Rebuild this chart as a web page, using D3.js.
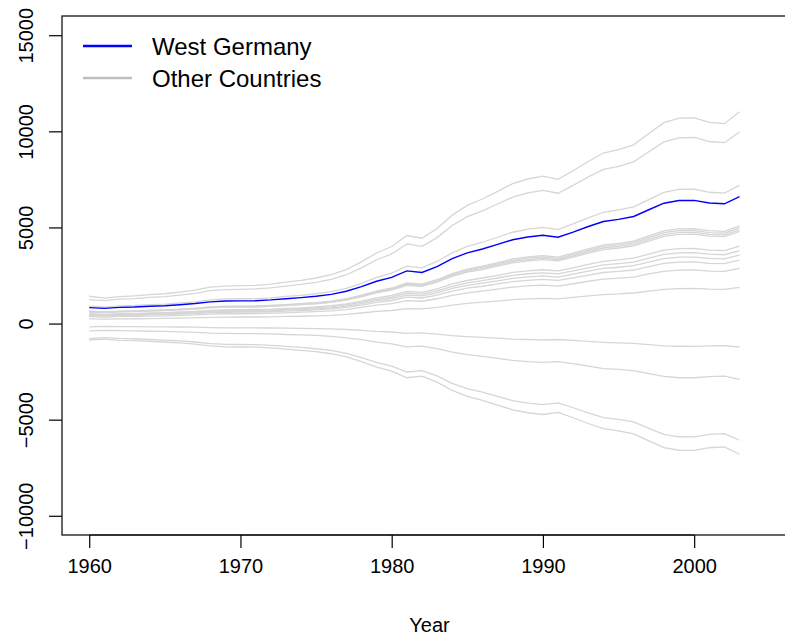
<!DOCTYPE html>
<html>
<head>
<meta charset="utf-8">
<script src="https://cdn.jsdelivr.net/npm/d3@7"></script>
<style>
    body { margin: 0; background: #fff; }
    text { font-family: "Liberation Sans", Arial, sans-serif; }
</style>
</head>
<body>
<svg id="chart" width="785" height="638"></svg>
<script>
var years = d3.range(1960, 2004);

var westGermany = [830,790,840,860,900,930,980,1040,1130,1170,1180,1190,1230,1290,1350,1420,1520,1680,1920,2200,2400,2740,2660,2960,3380,3680,3880,4120,4360,4500,4590,4490,4760,5050,5310,5420,5570,5920,6260,6400,6410,6270,6230,6600];

var other01 = [1420,1320,1400,1440,1500,1550,1640,1740,1890,1950,1970,1990,2050,2150,2250,2370,2540,2810,3210,3670,4010,4580,4440,4940,5640,6150,6480,6880,7280,7520,7670,7500,7950,8430,8870,9050,9300,9890,10450,10690,10700,10470,10400,11020];
var other02 = [1250,1190,1270,1300,1360,1400,1480,1570,1710,1770,1780,1800,1860,1950,2040,2140,2300,2540,2900,3320,3620,4140,4020,4470,5100,5560,5860,6220,6580,6800,6930,6780,7190,7630,8020,8180,8410,8940,9450,9660,9680,9470,9410,9970];
var other03 = [900,860,920,940,980,1010,1070,1130,1230,1280,1290,1300,1340,1410,1470,1550,1660,1830,2090,2400,2620,2990,2900,3230,3680,4010,4230,4490,4750,4910,5000,4890,5190,5500,5790,5910,6070,6450,6820,6980,6990,6830,6790,7190];
var other04 = [640,610,650,660,690,720,750,800,870,900,910,920,950,990,1040,1090,1170,1290,1480,1690,1850,2110,2050,2280,2600,2830,2990,3170,3360,3470,3530,3460,3670,3890,4090,4170,4290,4560,4820,4930,4940,4830,4800,5080];
var other05 = [630,600,630,650,680,700,740,790,850,880,890,900,930,970,1020,1070,1150,1270,1450,1660,1810,2070,2010,2230,2550,2780,2930,3110,3290,3400,3470,3390,3590,3810,4010,4090,4210,4470,4730,4830,4840,4730,4700,4980];
var other06 = [610,580,620,640,670,690,730,770,840,870,870,880,910,950,1000,1050,1120,1240,1420,1630,1780,2030,1970,2190,2500,2720,2870,3050,3230,3330,3400,3320,3520,3740,3930,4010,4120,4380,4630,4740,4740,4640,4610,4880];
var other07 = [600,570,610,620,650,670,710,750,820,850,860,860,890,940,980,1030,1100,1220,1390,1600,1740,1990,1930,2150,2450,2670,2810,2990,3160,3260,3330,3260,3450,3660,3850,3930,4040,4290,4540,4640,4650,4550,4520,4790];
var other08 = [510,480,510,520,550,570,600,630,690,710,720,730,750,790,820,870,930,1020,1170,1340,1460,1670,1620,1810,2060,2240,2370,2510,2660,2740,2800,2740,2900,3080,3240,3310,3400,3610,3820,3900,3910,3820,3800,4030];
var other09 = [480,450,480,490,520,530,560,600,650,670,680,680,710,740,780,820,870,970,1100,1260,1380,1580,1530,1700,1940,2120,2230,2370,2510,2590,2640,2580,2740,2900,3050,3120,3200,3400,3600,3680,3690,3610,3580,3800];
var other10 = [450,430,450,460,490,500,530,560,610,630,640,640,660,700,730,770,820,910,1040,1190,1300,1480,1440,1600,1830,1990,2100,2220,2350,2430,2480,2420,2570,2730,2870,2930,3010,3200,3380,3460,3460,3390,3360,3560];
var other11 = [415,395,420,430,450,465,490,520,565,585,590,595,615,645,675,710,760,840,960,1100,1200,1370,1330,1480,1690,1840,1940,2060,2180,2250,2295,2245,2380,2525,2655,2710,2785,2960,3130,3200,3205,3135,3115,3300];
var other12 = [360,340,370,370,390,400,430,450,490,510,510,520,540,560,590,620,660,730,840,960,1040,1190,1160,1290,1470,1600,1690,1790,1900,1960,2000,1950,2070,2200,2310,2360,2420,2580,2720,2780,2790,2730,2710,2870];
var other13 = [240,230,240,250,260,270,280,300,320,330,340,340,350,370,380,400,430,480,550,630,680,780,760,840,960,1050,1110,1170,1240,1280,1310,1280,1360,1440,1510,1540,1590,1690,1780,1820,1830,1790,1780,1880];
var other14 = [-170,-150,-160,-160,-170,-170,-180,-190,-210,-220,-220,-220,-230,-240,-250,-260,-280,-310,-360,-410,-440,-510,-490,-550,-630,-680,-720,-760,-810,-830,-850,-830,-880,-930,-980,-1000,-1030,-1100,-1160,-1180,-1190,-1160,-1150,-1220];
var other15 = [-380,-350,-370,-380,-400,-410,-430,-460,-500,-510,-520,-520,-540,-570,-590,-620,-670,-740,-840,-970,-1060,-1210,-1170,-1300,-1490,-1620,-1710,-1810,-1920,-1980,-2020,-1980,-2090,-2220,-2340,-2380,-2450,-2600,-2750,-2820,-2820,-2760,-2740,-2900];
var other16 = [-790,-730,-770,-790,-830,-860,-900,-960,-1040,-1080,-1090,-1100,-1130,-1190,-1240,-1310,-1400,-1550,-1770,-2020,-2210,-2520,-2450,-2720,-3110,-3390,-3570,-3790,-4010,-4140,-4220,-4130,-4380,-4650,-4890,-4990,-5120,-5450,-5760,-5890,-5900,-5770,-5730,-6070];
var other17 = [-860,-810,-870,-890,-930,-960,-1010,-1070,-1160,-1210,-1220,-1230,-1270,-1330,-1390,-1460,-1570,-1730,-1980,-2270,-2470,-2820,-2740,-3050,-3480,-3790,-4000,-4240,-4490,-4640,-4730,-4620,-4900,-5200,-5470,-5580,-5740,-6100,-6450,-6590,-6600,-6460,-6420,-6800];

var otherCountries = [other01, other02, other03, other04, other05, other06, other07, other08,
                      other09, other10, other11, other12, other13, other14, other15, other16, other17];

var xTicks = [1960, 1970, 1980, 1990, 2000];
var yTicks = [-10000, -5000, 0, 5000, 10000, 15000];
var legendLabels = ["West Germany", "Other Countries"];

function drawChart(){
    var svg = d3.select("#chart");
    // plot region, right edge falls outside the picture
    var left = 62, top = 16, right = 797, bottom = 535;

    var x = d3.scaleLinear()
                .domain([1958.2, 2006.8])
                .range([left, right]);
    var y = d3.scaleLinear()
                .domain([-11000, 16000])
                .range([bottom, top]);

    var line = d3.line()
                .x((d, i) => x(years[i]))
                .y(d => y(d));

    svg.append("g")
        .selectAll("path")
        .data(otherCountries)
        .enter()
        .append("path")
            .attr("d", line)
            .attr("fill", "none")
            .attr("stroke", "#d6d6d6")
            .attr("stroke-width", 1.3);

    svg.append("path")
        .attr("d", line(westGermany))
        .attr("fill", "none")
        .attr("stroke", "#0000ff")
        .attr("stroke-width", 1.4);

    // box
    svg.append("rect")
        .attr("x", left)
        .attr("y", top)
        .attr("width", right - left)
        .attr("height", bottom - top)
        .attr("fill", "none")
        .attr("stroke", "#000")
        .attr("stroke-width", 1.2);

    var xAxis = svg.append("g")
        .attr("transform", "translate(0," + bottom + ")")
        .call(d3.axisBottom(x).tickValues(xTicks).tickFormat(d3.format("d")).tickSize(13).tickPadding(11));

    var yAxis = svg.append("g")
        .attr("transform", "translate(" + left + ",0)")
        .call(d3.axisLeft(y).tickValues(yTicks).tickFormat(d3.format("d")).tickSize(13));

    [xAxis, yAxis].forEach(function(g){
        g.selectAll(".domain").remove();
        g.selectAll("line").attr("stroke", "#000").attr("stroke-width", 1.2);
        g.selectAll("text")
            .attr("fill", "#000")
            .style("font-size", "20px")
            .style("font-family", "Liberation Sans, Arial, sans-serif");
    });

    xAxis.append("line")
        .attr("x1", x(xTicks[0]))
        .attr("x2", x(xTicks[xTicks.length - 1]))
        .attr("stroke", "#000")
        .attr("stroke-width", 1.2);

    yAxis.selectAll("text")
        .attr("x", 0)
        .attr("y", 0)
        .attr("dy", null)
        .attr("transform", "translate(-29,0) rotate(-90)")
        .style("text-anchor", "middle");

    svg.append("text")
        .attr("x", (left + right) / 2)
        .attr("y", 632)
        .style("text-anchor", "middle")
        .style("font-size", "20px")
        .text("Year");

    // legend
    var legend = svg.append("g");
    var legendColors = ["#0000ff", "#bebebe"];
    var legendY = [46, 78];

    legendLabels.forEach(function(label, i){
        legend.append("line")
            .attr("x1", 83)
            .attr("x2", 132)
            .attr("y1", legendY[i])
            .attr("y2", legendY[i])
            .attr("stroke", legendColors[i])
            .attr("stroke-width", 2.3);

        legend.append("text")
            .attr("x", 152)
            .attr("y", legendY[i] + 9)
            .style("font-size", "24px")
            .attr("fill", "#000")
            .text(label);
    });
}

drawChart();
</script>
</body>
</html>
